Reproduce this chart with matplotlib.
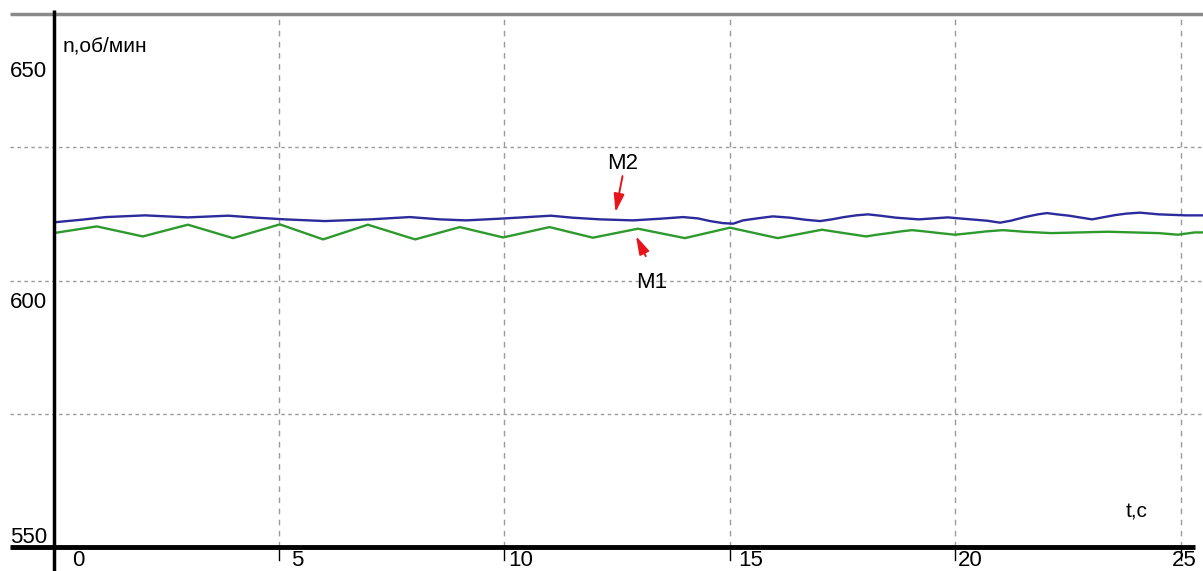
import matplotlib
matplotlib.use("Agg")
import matplotlib.pyplot as plt
from matplotlib import font_manager

# ---------------- data ----------------
t_m2 = [0.00, 0.23, 0.63, 1.16, 2.03, 2.98, 3.87, 4.49, 5.13, 6.02, 7.02, 7.90, 8.57,
        9.15, 9.90, 10.52, 11.03, 11.50, 12.12, 12.85, 13.47, 13.96, 14.29, 14.56, 14.84,
        15.07, 15.29, 15.60, 15.95, 16.33, 16.66, 17.00, 17.26, 17.53, 17.80, 18.06, 18.33,
        18.68, 19.19, 19.83, 20.34, 20.70, 20.99, 21.23, 21.54, 21.83, 22.03, 22.25, 22.52,
        22.79, 23.03, 23.30, 23.54, 23.78, 24.09, 24.51, 25.11, 25.49]
n_m2 = [610.90, 611.09, 611.41, 611.90, 612.22, 611.84, 612.16, 611.79, 611.47, 611.15,
        611.47, 611.90, 611.47, 611.28, 611.60, 611.90, 612.16, 611.79, 611.47, 611.28,
        611.60, 611.90, 611.65, 611.15, 610.77, 610.66, 611.28, 611.65, 612.03, 611.79,
        611.41, 611.15, 611.47, 611.90, 612.22, 612.41, 612.16, 611.79, 611.47, 611.84,
        611.47, 611.22, 610.85, 611.22, 611.90, 612.41, 612.65, 612.41, 612.16, 611.79,
        611.47, 611.90, 612.27, 612.54, 612.73, 612.41, 612.22, 612.22]

t_m1 = [0.00, 0.96, 1.98, 2.98, 3.98, 5.02, 5.98, 6.97, 8.02, 9.01, 9.97, 11.00, 11.96,
        12.96, 14.00, 15.00, 16.06, 17.04, 17.53, 17.77, 18.02, 18.26, 18.53, 18.79, 19.04,
        19.32, 19.65, 19.99, 20.34, 20.68, 21.05, 21.52, 22.12, 23.38, 24.51, 24.93, 25.31,
        25.49]
n_m1 = [608.89, 610.15, 608.27, 610.47, 607.95, 610.53, 607.71, 610.47, 607.71, 610.02,
        608.08, 610.02, 608.03, 609.72, 607.95, 609.91, 607.95, 609.53, 608.89, 608.59,
        608.27, 608.59, 608.89, 609.21, 609.45, 609.21, 608.89, 608.59, 608.89, 609.21,
        609.45, 609.15, 608.89, 609.15, 608.89, 608.59, 609.02, 609.02]

x_ticks = [0, 5, 10, 15, 20, 25]
y_ticks = [550, 600, 650]
y_grid = [575, 600, 625]
x_grid = [5, 10, 15, 20, 25]
x_label = "t,c"
y_label = "n,об/мин"
series_names = ["M2", "M1"]

# ---------------- fonts ----------------
def has_font(name):
    try:
        font_manager.findfont(font_manager.FontProperties(family=name), fallback_to_default=False)
        return True
    except Exception:
        return False

fam = [f for f in ["Liberation Sans Narrow", "Liberation Sans", "DejaVu Sans"] if has_font(f)]
plt.rcParams['font.family'] = fam

# ---------------- figure ----------------
W, H = 1203, 571
fig = plt.figure(figsize=(W / 100, H / 100), dpi=100)
ax = fig.add_axes([53.5 / W, 24 / H, (W - 53.5) / W, 533 / H])
ax.set_xlim(0, 25.49)
ax.set_ylim(550, 650)
for s in ax.spines.values():
    s.set_visible(False)
ax.set_xticks([])
ax.set_yticks([])

grey = "#9a9a9a"
# horizontal dotted grid lines (extend left of the y axis)
for g in y_grid:
    ax.plot([-0.96, 25.49], [g, g], color=grey, lw=1.0, ls=(0, (2.5, 2.5)), clip_on=False, zorder=1)
# vertical dashed grid lines
for g in x_grid:
    ax.plot([g, g], [550, 650], color=grey, lw=1.0, ls=(0, (4, 4)), clip_on=False, zorder=1)

# top border (grey)
ax.plot([-0.96, 25.49], [650, 650], color="#8a8a8a", lw=2.5, clip_on=False, zorder=2, solid_capstyle='butt')
# y axis (black)
ax.plot([0, 0], [545.4, 650.8], color="black", lw=2.5, clip_on=False, zorder=5, solid_capstyle='butt')
# x axis (thick black)
ax.plot([-0.96, 25.31], [550, 550], color="black", lw=3.5, clip_on=False, zorder=5, solid_capstyle='butt')

# x tick marks below axis
for xt in x_ticks[1:]:
    ax.plot([xt, xt], [550, 547.6], color="black", lw=1.0, clip_on=False, zorder=5)

# data lines
ax.plot(t_m2, n_m2, color="#2b2b9c", lw=1.7, zorder=4)
ax.plot(t_m1, n_m1, color="#2e9a2e", lw=1.7, zorder=4)

# tick labels
txt_kw = dict(fontsize=16, color="black", clip_on=False)
x_off = [0.55, 0.40, 0.35, 0.45, 0.33, 0.08]
for xt, off in zip(x_ticks, x_off):
    ax.text(xt + off, 546.45, str(xt), ha="center", va="baseline", **txt_kw)
y_pos = {650: 638.2, 600: 594.8, 550: 550.8}
for yt in y_ticks:
    ax.text(-0.14, y_pos[yt], str(yt), ha="right", va="baseline", **txt_kw)

# axis labels
ax.text(0.2, 642.9, y_label, ha="left", va="baseline", fontsize=15, clip_on=False)
ax.text(24.02, 555.6, x_label, ha="center", va="baseline", fontsize=15, clip_on=False)

# series annotations with red arrows
arrow_kw = dict(arrowstyle="-|>,head_length=1.1,head_width=0.32", color="#e8141b", lw=1.4)
ax.text(12.63, 621.0, series_names[0], ha="center", va="baseline", fontsize=16)
ax.annotate("", xy=(12.45, 612.3), xytext=(12.63, 620.1), arrowprops=arrow_kw)
ax.text(13.27, 598.5, series_names[1], ha="center", va="baseline", fontsize=16)
ax.annotate("", xy=(12.89, 608.8), xytext=(13.16, 604.1), arrowprops=arrow_kw)

fig.savefig("out.png", dpi=100)
